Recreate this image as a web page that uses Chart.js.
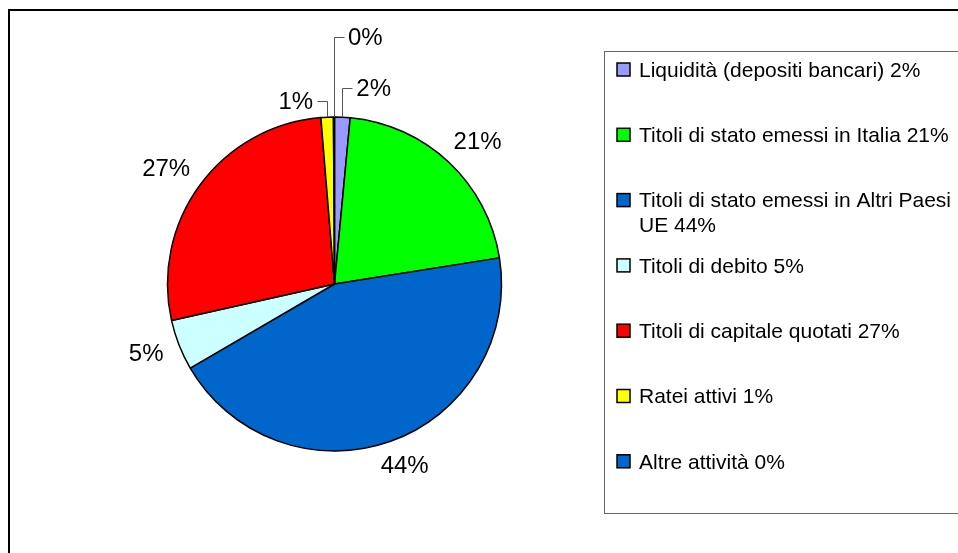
<!DOCTYPE html>
<html>
<head>
<meta charset="utf-8">
<script src="https://cdn.jsdelivr.net/npm/chart.js@4.4.1/dist/chart.umd.min.js"></script>
<style>
  body { margin: 0; background: #fff; }
  #box { position: relative; width: 958px; height: 553px; }
</style>
</head>
<body>
<div id="box"><canvas id="torta"></canvas></div>
<script>
// dati
const categorie = [
  'Liquidità (depositi bancari)',
  'Titoli di stato emessi in Italia',
  'Titoli di stato emessi in Altri Paesi UE',
  'Titoli di debito',
  'Titoli di capitale quotati',
  'Ratei attivi',
  'Altre attività'
];
const valori = [1.5, 21.0, 44.1, 4.9, 27.2, 1.2, 0.1];
const etichette = ['2%', '21%', '44%', '5%', '27%', '1%', '0%'];
const colori = ['#9999FF', '#00FF00', '#0066CC', '#CCFFFF', '#FF0000', '#FFFF00', '#0066CC'];

const FONT = '"Liberation Sans", Arial, sans-serif';

// fette piccole: etichetta con linea di richiamo (alzata in px, lato)
const richiami = { 0: { alto: 29, lato: 1 }, 5: { alto: 16, lato: -1 }, 6: { alto: 80, lato: 1 } };

const etichettePlugin = {
  id: 'etichette',
  afterDatasetsDraw(chart) {
    const ctx = chart.ctx;
    const meta = chart.getDatasetMeta(0);
    ctx.save();
    ctx.font = '24px ' + FONT;
    ctx.fillStyle = '#000';
    meta.data.forEach((arc, i) => {
      const p = arc.getProps(['x', 'y', 'startAngle', 'endAngle', 'outerRadius'], true);
      const mid = (p.startAngle + p.endAngle) / 2;
      const dx = Math.cos(mid), dy = Math.sin(mid);
      const r = richiami[i];
      if (r) {
        const x0 = p.x + dx * p.outerRadius;
        const y0 = p.y + dy * p.outerRadius;
        const y1 = y0 - r.alto;
        const x1 = x0 + r.lato * 10;
        ctx.strokeStyle = '#555';
        ctx.lineWidth = 1;
        ctx.beginPath();
        ctx.moveTo(Math.round(x0) + 0.5, y0);
        ctx.lineTo(Math.round(x0) + 0.5, Math.round(y1) + 0.5);
        ctx.lineTo(Math.round(x1) + 0.5, Math.round(y1) + 0.5);
        ctx.stroke();
        ctx.textBaseline = 'middle';
        ctx.textAlign = r.lato > 0 ? 'left' : 'right';
        ctx.fillText(etichette[i], x1 + r.lato * 4, y1 + 1);
      } else {
        // riquadro del testo appoggiato fuori dalla torta
        const w = ctx.measureText(etichette[i]).width;
        const h = 18;
        const d = p.outerRadius + 18;
        ctx.textBaseline = 'middle';
        ctx.textAlign = 'center';
        ctx.fillText(etichette[i], p.x + dx * d + dx * w / 2, p.y + dy * d + dy * h / 2);
      }
    });
    ctx.restore();
  }
};

const cornicePlugin = {
  id: 'cornice',
  afterDraw(chart) {
    const ctx = chart.ctx;
    ctx.save();
    // cornice esterna
    ctx.strokeStyle = '#000';
    ctx.lineWidth = 2;
    ctx.strokeRect(9, 10, 1000, 600);
    // riquadro legenda
    ctx.strokeStyle = '#666';
    ctx.lineWidth = 1;
    ctx.strokeRect(604.5, 51.5, 500, 462);

    ctx.font = '21px ' + FONT;
    ctx.textBaseline = 'middle';
    ctx.textAlign = 'left';
    const maxW = 325;
    categorie.forEach((c, i) => {
      const y = 70 + i * 65.3;
      ctx.fillStyle = colori[i];
      ctx.fillRect(617, y - 7, 13, 13);
      ctx.strokeStyle = '#000';
      ctx.lineWidth = 1.5;
      ctx.strokeRect(617, y - 7, 13, 13);
      // a capo se il testo non entra
      const parole = (c + ' ' + etichette[i]).split(' ');
      const righe = [];
      let riga = '';
      parole.forEach(w => {
        const prova = riga ? riga + ' ' + w : w;
        if (ctx.measureText(prova).width > maxW && riga) {
          righe.push(riga);
          riga = w;
        } else {
          riga = prova;
        }
      });
      righe.push(riga);
      ctx.fillStyle = '#000';
      righe.forEach((t, k) => ctx.fillText(t, 639, y + 1 + k * 25));
    });
    ctx.restore();
  }
};

new Chart(document.getElementById('torta'), {
  type: 'pie',
  data: {
    labels: categorie,
    datasets: [{
      data: valori,
      backgroundColor: colori,
      borderColor: '#000',
      borderWidth: 1.5
    }]
  },
  options: {
    responsive: true,
    maintainAspectRatio: false,
    animation: false,
    radius: 167,
    layout: { padding: { left: 0, right: 289, top: 15, bottom: 0 } },
    plugins: {
      legend: { display: false },
      tooltip: { enabled: false }
    }
  },
  plugins: [etichettePlugin, cornicePlugin]
});
</script>
</body>
</html>
